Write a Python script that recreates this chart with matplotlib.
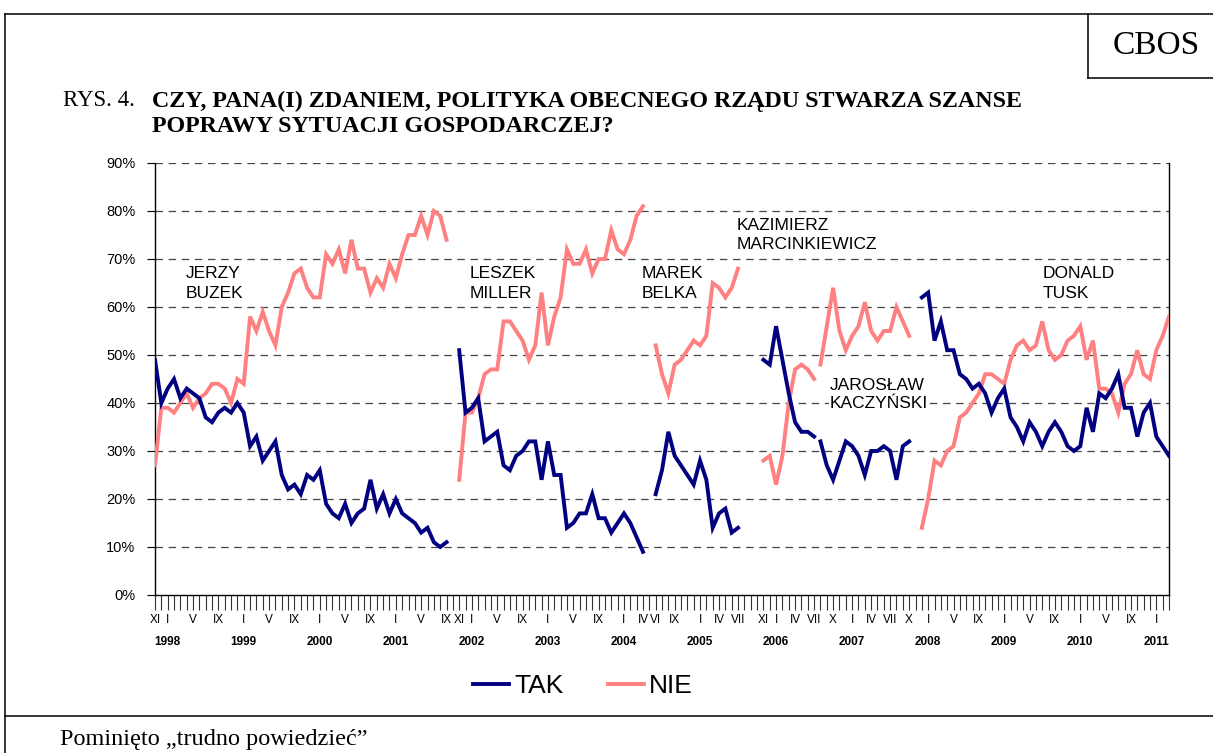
import matplotlib
matplotlib.use("Agg")
import matplotlib.pyplot as plt
from matplotlib.lines import Line2D

W, H = 1213, 753

# first survey month of the chart: XI 1997
START = (1997, 11)

# one block per government: first month, TAK, NIE (in %)
buzek_start = (1997, 11)
buzek_tak = [49, 40, 43, 45, 41, 43, 42, 41, 37, 36, 38, 39, 38, 40, 38, 31, 33, 28, 30, 32,
             25, 22, 23, 21, 25, 24, 26, 19, 17, 16, 19, 15, 17, 18, 24, 18, 21, 17, 20, 17,
             16, 15, 13, 14, 11, 10, 11]
buzek_nie = [27, 39, 39, 38, 40, 42, 39, 41, 42, 44, 44, 43, 40, 45, 44, 58, 55, 59, 55, 52,
             60, 63, 67, 68, 64, 62, 62, 71, 69, 72, 67, 74, 68, 68, 63, 66, 64, 69, 66, 71,
             75, 75, 79, 75, 80, 79, 74]

miller_start = (2001, 11)
miller_tak = [51, 38, 39, 41, 32, 33, 34, 27, 26, 29, 30, 32, 32, 24, 32, 25, 25, 14, 15, 17,
              17, 21, 16, 16, 13, 15, 17, 15, 12, 9]
miller_nie = [24, 38, 38, 41, 46, 47, 47, 57, 57, 55, 53, 49, 52, 63, 52, 58, 62, 72, 69, 69,
              72, 67, 70, 70, 76, 72, 71, 74, 79, 81]

belka_start = (2004, 6)
belka_tak = [21, 26, 34, 29, 27, 25, 23, 28, 24, 14, 17, 18, 13, 14]
belka_nie = [52, 46, 42, 48, 49, 51, 53, 52, 54, 65, 64, 62, 64, 68]

marcink_start = (2005, 11)
marcink_tak = [49, 48, 56, 49, 42, 36, 34, 34, 33]
marcink_nie = [28, 29, 23, 29, 40, 47, 48, 47, 45]

kaczynski_start = (2006, 8)
kaczynski_tak = [32, 27, 24, 28, 32, 31, 29, 25, 30, 30, 31, 30, 24, 31, 32]
kaczynski_nie = [48, 56, 64, 55, 51, 54, 56, 61, 55, 53, 55, 55, 60, 57, 54]

tusk_start = (2007, 12)
tusk_tak = [62, 63, 53, 57, 51, 51, 46, 45, 43, 44, 42, 38, 41, 43, 37, 35, 32, 36, 34, 31,
            34, 36, 34, 31, 30, 31, 39, 34, 42, 41, 43, 46, 39, 39, 33, 38, 40, 33, 31, 29]
tusk_nie = [14, 20, 28, 27, 30, 31, 37, 38, 40, 42, 46, 46, 45, 44, 49, 52, 53, 51, 52, 57,
            51, 49, 50, 53, 54, 56, 49, 53, 43, 43, 42, 38, 44, 46, 51, 46, 45, 51, 54, 58]

governments = [
    (buzek_start, buzek_tak, buzek_nie),
    (miller_start, miller_tak, miller_nie),
    (belka_start, belka_tak, belka_nie),
    (marcink_start, marcink_tak, marcink_nie),
    (kaczynski_start, kaczynski_tak, kaczynski_nie),
    (tusk_start, tusk_tak, tusk_nie),
]

# labelled months on the category axis
tick_months = [(1997, 11), (1998, 1), (1998, 5), (1998, 9), (1999, 1), (1999, 5), (1999, 9),
               (2000, 1), (2000, 5), (2000, 9), (2001, 1), (2001, 5), (2001, 9), (2001, 11),
               (2002, 1), (2002, 5), (2002, 9), (2003, 1), (2003, 5), (2003, 9), (2004, 1),
               (2004, 4), (2004, 6), (2004, 9), (2005, 1), (2005, 4), (2005, 7), (2005, 11),
               (2006, 1), (2006, 4), (2006, 7), (2006, 10), (2007, 1), (2007, 4), (2007, 7),
               (2007, 10), (2008, 1), (2008, 5), (2008, 9), (2009, 1), (2009, 5), (2009, 9),
               (2010, 1), (2010, 5), (2010, 9), (2011, 1)]
roman = ["", "I", "II", "III", "IV", "V", "VI", "VII", "VIII", "IX", "X", "XI", "XII"]
years = list(range(1998, 2012))
last_month = (2011, 3)

labels = [
    (["JERZY", "BUZEK"], 186, 274),
    (["LESZEK", "MILLER"], 470, 274),
    (["MAREK", "BELKA"], 642, 274),
    (["KAZIMIERZ", "MARCINKIEWICZ"], 737, 226),
    (["JAROSŁAW", "KACZYŃSKI"], 830, 385),
    (["DONALD", "TUSK"], 1043, 274),
]


def idx(ym):
    return (ym[0] - START[0]) * 12 + (ym[1] - START[1])


def fx(x):
    return x / W


def fy(y):
    return 1 - y / H


TAK_COLOR = "#000080"
NIE_COLOR = "#FF8080"

fig = plt.figure(figsize=(W / 100, H / 100), dpi=100)
ax = fig.add_axes([fx(155), fy(595), (1169 - 155) / W, (595 - 163) / H])

for start, tak, nie in governments:
    x0 = idx(start)
    xs = list(range(x0, x0 + len(tak)))
    ax.plot(xs, nie, color=NIE_COLOR, lw=2.8, zorder=4, solid_joinstyle="miter")
    ax.plot(xs, tak, color=TAK_COLOR, lw=2.8, zorder=5, solid_joinstyle="miter")

n_last = idx(last_month)
ax.set_xlim(0, n_last)
ax.set_ylim(0, 90)
ax.set_yticks(range(0, 100, 10))
ax.set_yticklabels([f"{v}%" for v in range(0, 100, 10)], family="Liberation Sans", fontsize=10.5)
for v in range(10, 100, 10):
    ax.axhline(v, color="#444444", lw=0.9, ls=(0, (6, 4.5)), zorder=1)

ax.set_xticks([idx(m) for m in tick_months])
ax.set_xticklabels([roman[m[1]] for m in tick_months], family="Liberation Sans", fontsize=8.5)
ax.set_xticks(range(0, n_last + 1), minor=True)
ax.tick_params(axis="x", which="both", direction="out", length=11, width=0.8, color="#333333", pad=3)
ax.tick_params(axis="y", length=6, width=0.8, pad=8)

for yr in years:
    ax.text(idx((yr, 1)), -0.108, str(yr), transform=ax.get_xaxis_transform(),
            ha="center", va="center", family="Liberation Sans", fontsize=8.5, fontweight="bold")

ax.spines["top"].set_visible(False)
for s in ["left", "bottom", "right"]:
    ax.spines[s].set_linewidth(1.0)
    ax.spines[s].set_color("black")

for lines, x, y in labels:
    for k, t in enumerate(lines):
        fig.text(fx(x), fy(y + 19 * k), t, ha="left", va="center", family="Liberation Sans",
                 fontsize=12.5, zorder=3,
                 bbox=dict(facecolor="white", edgecolor="none", pad=0.5))

# legend
handles = [Line2D([], [], color=TAK_COLOR, lw=2.8), Line2D([], [], color=NIE_COLOR, lw=2.8)]
fig.legend(handles, ["TAK", "NIE"], loc="center", bbox_to_anchor=(fx(583), fy(686)), ncol=2,
           frameon=False, prop={"family": "Liberation Sans", "size": 19},
           handlelength=1.35, handletextpad=0.2, columnspacing=1.7)

# page frame
frame_kw = dict(color="black", lw=1.1, transform=fig.transFigure)
fig.add_artist(Line2D([fx(5), fx(1213)], [fy(14), fy(14)], **frame_kw))
fig.add_artist(Line2D([fx(5), fx(5)], [fy(14), fy(753)], **frame_kw))
fig.add_artist(Line2D([fx(5), fx(1213)], [fy(716), fy(716)], **frame_kw))
fig.add_artist(Line2D([fx(1088), fx(1088)], [fy(14), fy(78)], **frame_kw))
fig.add_artist(Line2D([fx(1088), fx(1213)], [fy(78), fy(78)], **frame_kw))

fig.text(fx(1156), fy(46), "CBOS", ha="center", va="center", family="Liberation Serif", fontsize=24)
fig.text(fx(63), fy(101), "RYS. 4.", ha="left", va="center", family="Liberation Serif", fontsize=16.5)
fig.text(fx(152), fy(101), "CZY, PANA(I) ZDANIEM, POLITYKA OBECNEGO RZĄDU STWARZA SZANSE",
         ha="left", va="center", family="Liberation Serif", fontsize=17.3, fontweight="bold")
fig.text(fx(152), fy(126), "POPRAWY SYTUACJI GOSPODARCZEJ?",
         ha="left", va="center", family="Liberation Serif", fontsize=17.3, fontweight="bold")
fig.text(fx(60), fy(740), "Pominięto „trudno powiedzieć”", ha="left", va="center",
         family="Liberation Serif", fontsize=17.5)

fig.savefig("out.png", dpi=100)
